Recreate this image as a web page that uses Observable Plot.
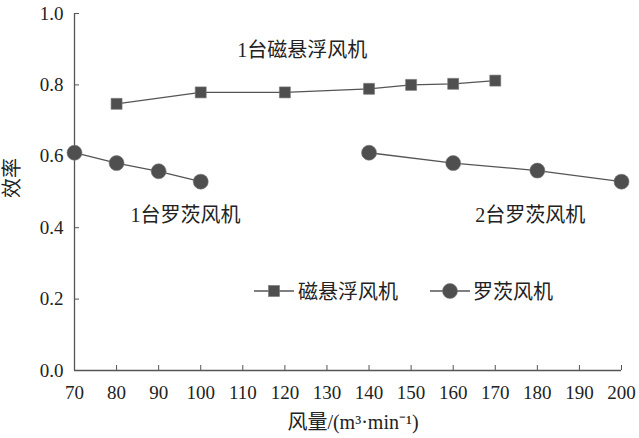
<!DOCTYPE html>
<html>
<head>
<meta charset="utf-8">
<script src="https://cdn.jsdelivr.net/npm/d3@7"></script>
<script src="https://cdn.jsdelivr.net/npm/@observablehq/plot@0.6"></script>
<style>
  body { margin: 0; background: #fff; }
  #wrap { position: relative; width: 639px; height: 438px; }
  #wrap svg text { font-family: "Liberation Serif", "Noto Sans CJK SC", serif; }
  #legend { position: absolute; left: 254px; top: 276px; display: flex; align-items: center;
    font-family: "Liberation Serif", "Noto Sans CJK SC", serif; font-size: 20px; color: #222; }
  #legend .item { display: flex; align-items: center; }
  #legend svg { display: block; }
</style>
</head>
<body>
<div id="wrap"></div>
<script>
// Data
const airflow = [70, 80, 90, 100, 110, 120, 130, 140, 150, 160, 170, 180, 190, 200];
const maglevX = [80, 100, 120, 140, 150, 160, 170];
const maglevY = [0.747, 0.779, 0.779, 0.789, 0.800, 0.803, 0.812];
const roots1X = [70, 80, 90, 100];
const roots1Y = [0.610, 0.581, 0.558, 0.529];
const roots2X = [140, 160, 180, 200];
const roots2Y = [0.610, 0.581, 0.560, 0.529];
const yTicks = [0, 0.2, 0.4, 0.6, 0.8, 1.0];
const seriesNames = ["磁悬浮风机", "罗茨风机"];
const annoText = ["1台磁悬浮风机", "1台罗茨风机", "2台罗茨风机"];
const annoX = [124.1, 96.4, 178.3];
const annoY = [0.896, 0.434, 0.434];

const maglev = maglevX.map((x, i) => ({x, y: maglevY[i]}));
const roots = [
  ...roots1X.map((x, i) => ({x, y: roots1Y[i], g: "1"})),
  ...roots2X.map((x, i) => ({x, y: roots2Y[i], g: "2"}))
];
const annos = annoText.map((t, i) => ({t, x: annoX[i], y: annoY[i]}));

const ink = "#555";
const markFill = "#4f4f4f";
const font = '"Liberation Serif", "Noto Sans CJK SC", serif';

const chart = Plot.plot({
  width: 639,
  height: 438,
  marginLeft: 74,
  marginRight: 18,
  marginTop: 13,
  marginBottom: 68,
  style: `font-family: ${font}; font-size: 19px; color: #222; background: #fff;`,
  x: {domain: [70, 200], ticks: airflow},
  y: {domain: [0, 1], ticks: yTicks},
  marks: [
    // tick marks pointing inward
    Plot.axisX({ticks: airflow, tickSize: 5, dy: -5, text: null, stroke: ink, label: null}),
    Plot.axisY({ticks: yTicks, tickSize: 5, dx: 5, text: null, stroke: ink, label: null}),
    // tick labels
    Plot.axisX({ticks: airflow, tickSize: 0, tickPadding: 15, fontSize: 19, label: null, fill: "#222", fontFamily: font}),
    Plot.axisY({ticks: yTicks, tickSize: 0, tickPadding: 11, fontSize: 19, label: null, fill: "#222", fontFamily: font,
      tickFormat: d => d.toFixed(1)}),
    Plot.ruleX([70], {stroke: ink, strokeWidth: 1.3}),
    Plot.ruleY([0], {stroke: ink, strokeWidth: 1.3}),
    Plot.line(maglev, {x: "x", y: "y", stroke: ink, strokeWidth: 1.3}),
    Plot.dot(maglev, {x: "x", y: "y", symbol: "square", r: 6.2, fill: markFill, stroke: "#777", strokeWidth: 0.6}),
    Plot.line(roots, {x: "x", y: "y", z: "g", stroke: ink, strokeWidth: 1.3}),
    Plot.dot(roots, {x: "x", y: "y", r: 7.5, fill: markFill, stroke: "#777", strokeWidth: 0.6}),
    Plot.text(annos, {x: "x", y: "y", text: "t", fontSize: 20, fill: "#222", fontFamily: font}),
    Plot.text(["效率"], {frameAnchor: "left", dx: -62, dy: 6, rotate: -90, fontSize: 20, fill: "#222", fontFamily: font, text: d => d}),
    Plot.text(["风量/(m³·min⁻¹)"], {frameAnchor: "bottom", dx: 5, dy: 58, fontSize: 20, fill: "#222", fontFamily: font, text: d => d})
  ]
});

const wrap = document.getElementById("wrap");
wrap.appendChild(chart);

const legend = document.createElement("div");
legend.id = "legend";
const sq = `<svg width="40" height="20"><line x1="0" y1="10" x2="40" y2="10" stroke="${ink}" stroke-width="1.3"/><rect x="14.5" y="4.5" width="11" height="11" fill="${markFill}" stroke="#777" stroke-width="0.6"/></svg>`;
const ci = `<svg width="40" height="20"><line x1="0" y1="10" x2="40" y2="10" stroke="${ink}" stroke-width="1.3"/><circle cx="20" cy="10" r="7.5" fill="${markFill}" stroke="#777" stroke-width="0.6"/></svg>`;
legend.innerHTML = `<div class="item">${sq}<span style="margin-left:4px">${seriesNames[0]}</span></div>` +
  `<div class="item" style="margin-left:32px">${ci}<span style="margin-left:3px">${seriesNames[1]}</span></div>`;
wrap.appendChild(legend);
</script>
</body>
</html>
